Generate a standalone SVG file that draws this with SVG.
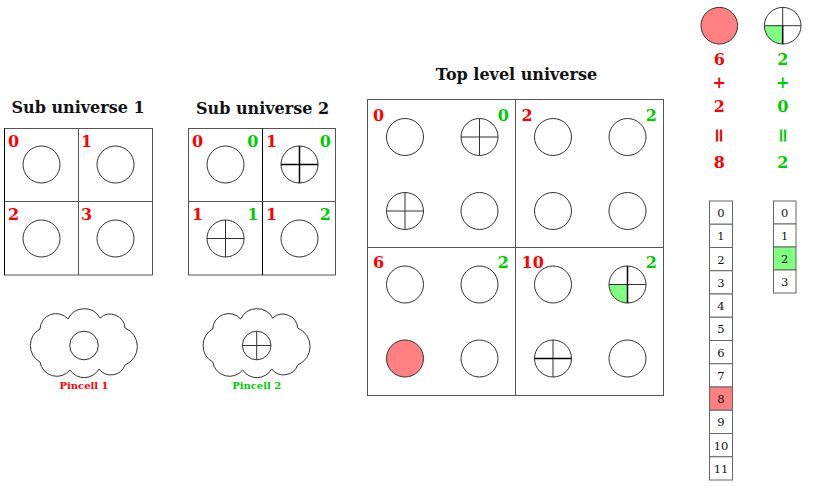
<svg xmlns="http://www.w3.org/2000/svg" width="815" height="486" viewBox="0 0 815 486">
<defs>
<style>
.title{font-family:"DejaVu Serif","Liberation Serif",serif;font-weight:bold;font-size:16px;fill:#111;text-anchor:middle}
.r{font-family:"DejaVu Serif","Liberation Serif",serif;font-weight:bold;font-size:16px;fill:#ff0000}
.g{font-family:"DejaVu Serif","Liberation Serif",serif;font-weight:bold;font-size:16px;fill:#00cc00;text-anchor:end}
.rc{font-family:"DejaVu Serif","Liberation Serif",serif;font-weight:bold;font-size:16px;fill:#ff0000;text-anchor:middle}
.gc{font-family:"DejaVu Serif","Liberation Serif",serif;font-weight:bold;font-size:16px;fill:#00cc00;text-anchor:middle}
.eq{font-size:19px}
.lab{font-family:"DejaVu Serif","Liberation Serif",serif;font-weight:bold;font-size:10px;text-anchor:middle}
.num{font-family:"DejaVu Serif","Liberation Serif",serif;font-size:11.5px;fill:#111;text-anchor:middle}
.box{fill:none;stroke:#555;stroke-width:1}
.edge{fill:none;stroke:#000;stroke-width:1}
.c{fill:none;stroke:#333;stroke-width:1}
.x{stroke:#333;stroke-width:1;fill:none}
.xb{stroke:#000;stroke-width:1.5;fill:none}
.cell{fill:#fff;stroke:#666;stroke-width:1}
.cloud{fill:none;stroke:#333;stroke-width:1}
</style>
<path id="cloud" d="M-44,-15 A16,16 0 0 1 -16,-25 A18,18 0 0 1 16,-26 A15,15 0 0 1 41,-16 A20,20 0 0 1 41,21 A15,15 0 0 1 15,25 A17,17 0 0 1 -14,26 A17,17 0 0 1 -44,18 A19,19 0 0 1 -44,-15 Z"/>
</defs>
<rect width="815" height="486" fill="#fff"/>

<g id="sub-universe-1">
<text class="title" x="78" y="113">Sub universe 1</text>
<rect class="box" x="4.5" y="128.5" width="148" height="146.5"/>
<line class="box" x1="78.5" y1="128.5" x2="78.5" y2="275"/>
<line class="box" x1="4.5" y1="201.5" x2="152.5" y2="201.5"/>
<line class="edge" x1="4.5" y1="128.5" x2="4.5" y2="275"/>
<circle class="c" cx="41.5" cy="164.5" r="18.5"/>
<circle class="c" cx="115.5" cy="164.5" r="18.5"/>
<circle class="c" cx="41.5" cy="238.5" r="18.5"/>
<circle class="c" cx="115.5" cy="238.5" r="18.5"/>
<text class="r" x="8" y="147">0</text>
<text class="r" x="81" y="147">1</text>
<text class="r" x="8" y="220">2</text>
<text class="r" x="81" y="220">3</text>
</g>

<g id="sub-universe-2">
<text class="title" x="262.5" y="114">Sub universe 2</text>
<rect class="box" x="188.5" y="128.5" width="147" height="146.5"/>
<line class="edge" x1="262.5" y1="128.5" x2="262.5" y2="275"/>
<line class="box" x1="188.5" y1="201.5" x2="335.5" y2="201.5"/>
<circle class="c" cx="225.5" cy="164.5" r="18.5"/>
<circle class="c" cx="299.5" cy="164.5" r="18.5"/>
<path class="xb" d="M281,164.5 H318 M299.5,146 V183"/>
<circle class="c" cx="225.5" cy="238.5" r="18.5"/>
<path class="x" d="M207,238.5 H244 M225.5,220 V257"/>
<circle class="c" cx="299.5" cy="238.5" r="18.5"/>
<text class="r" x="192" y="147">0</text>
<text class="g" x="258.5" y="147">0</text>
<text class="r" x="266" y="147">1</text>
<text class="g" x="331" y="147">0</text>
<text class="r" x="192" y="220">1</text>
<text class="g" x="258.5" y="220">1</text>
<text class="r" x="266" y="220">1</text>
<text class="g" x="331" y="220">2</text>
</g>

<g id="pincell-1">
<use href="#cloud" class="cloud" transform="translate(84,344)"/>
<circle class="c" cx="84" cy="345.5" r="14.3"/>
<text class="lab" x="84" y="389" fill="#ff0000">Pincell 1</text>
</g>

<g id="pincell-2">
<use href="#cloud" class="cloud" transform="translate(256.7,344)"/>
<circle class="c" cx="256.7" cy="345.5" r="14.3"/>
<path class="x" d="M242.4,345.5 H271 M256.7,331.2 V359.8"/>
<text class="lab" x="256.7" y="389" fill="#00cc00">Pincell 2</text>
</g>

<g id="top-level-universe">
<text class="title" x="516.5" y="80">Top level universe</text>
<rect class="box" x="367.5" y="99.5" width="296" height="296"/>
<line class="box" x1="515.5" y1="99.5" x2="515.5" y2="395.5"/>
<line class="box" x1="367.5" y1="247.5" x2="663.5" y2="247.5"/>
<circle class="c" cx="405" cy="137" r="18.5"/>
<circle class="c" cx="479.5" cy="137" r="18.5"/>
<path class="x" d="M461,137 H498 M479.5,118.5 V155.5"/>
<circle class="c" cx="405" cy="211" r="18.5"/>
<path class="x" d="M386.5,211 H423.5 M405,192.5 V229.5"/>
<circle class="c" cx="479.5" cy="211" r="18.5"/>
<circle class="c" cx="553" cy="137" r="18.5"/>
<circle class="c" cx="627.5" cy="137" r="18.5"/>
<circle class="c" cx="553" cy="211" r="18.5"/>
<circle class="c" cx="627.5" cy="211" r="18.5"/>
<circle class="c" cx="405" cy="284.5" r="18.5"/>
<circle class="c" cx="479.5" cy="284.5" r="18.5"/>
<circle cx="405" cy="358.5" r="18.5" fill="#ff8080" stroke="#333" stroke-width="1"/>
<circle class="c" cx="479.5" cy="358.5" r="18.5"/>
<circle class="c" cx="553" cy="284.5" r="18.5"/>
<path d="M627.5,284.5 L609,284.5 A18.5,18.5 0 0 0 627.5,303 Z" fill="#80ff80"/>
<circle class="c" cx="627.5" cy="284.5" r="18.5"/>
<path class="x" d="M609,284.5 H646"/>
<path class="xb" d="M627.5,266 V303"/>
<circle class="c" cx="553" cy="358.5" r="18.5"/>
<path class="x" d="M553,340 V377"/>
<path class="xb" d="M534.5,358.5 H571.5"/>
<circle class="c" cx="627.5" cy="358.5" r="18.5"/>
<text class="r" x="373" y="121">0</text>
<text class="g" x="509" y="121">0</text>
<text class="r" x="521.5" y="121">2</text>
<text class="g" x="657" y="121">2</text>
<text class="r" x="373" y="268">6</text>
<text class="g" x="509" y="268">2</text>
<text class="r" x="521.5" y="268">10</text>
<text class="g" x="657" y="268">2</text>
</g>

<g id="legend-red">
<circle cx="719.3" cy="25.7" r="18.3" fill="#ff8080" stroke="#333" stroke-width="1"/>
<text class="rc" x="719.3" y="65">6</text>
<text class="rc" x="719.3" y="88">+</text>
<text class="rc" x="719.3" y="112">2</text>
<text class="rc eq" x="719.3" y="141.5" transform="rotate(90 719.3 135.5)">=</text>
<text class="rc" x="719.3" y="168">8</text>
</g>

<g id="legend-green">
<path d="M782.7,25.7 L764.4,25.7 A18.3,18.3 0 0 0 782.7,44 Z" fill="#80ff80"/>
<circle class="c" cx="782.7" cy="25.7" r="18.3"/>
<path class="x" d="M764.4,25.7 H801 M782.7,7.4 V25.7"/>
<path class="xb" d="M782.7,25.7 V44"/>
<text class="gc" x="782.7" y="65">2</text>
<text class="gc" x="782.7" y="88">+</text>
<text class="gc" x="782.7" y="112">0</text>
<text class="gc eq" x="782.7" y="141.5" transform="rotate(90 782.7 135.5)">=</text>
<text class="gc" x="782.7" y="168">2</text>
</g>

<g id="list-red">
<rect class="cell" x="709.5" y="201" width="23" height="23.25"/>
<rect class="cell" x="709.5" y="224.25" width="23" height="23.25"/>
<rect class="cell" x="709.5" y="247.5" width="23" height="23.25"/>
<rect class="cell" x="709.5" y="270.75" width="23" height="23.25"/>
<rect class="cell" x="709.5" y="294" width="23" height="23.25"/>
<rect class="cell" x="709.5" y="317.25" width="23" height="23.25"/>
<rect class="cell" x="709.5" y="340.5" width="23" height="23.25"/>
<rect class="cell" x="709.5" y="363.75" width="23" height="23.25"/>
<rect class="cell" x="709.5" y="387" width="23" height="23.25" style="fill:#ff8080"/>
<rect class="cell" x="709.5" y="410.25" width="23" height="23.25"/>
<rect class="cell" x="709.5" y="433.5" width="23" height="23.25"/>
<rect class="cell" x="709.5" y="456.75" width="23" height="23.25"/>
<text class="num" x="721" y="217">0</text>
<text class="num" x="721" y="240.25">1</text>
<text class="num" x="721" y="263.5">2</text>
<text class="num" x="721" y="286.75">3</text>
<text class="num" x="721" y="310">4</text>
<text class="num" x="721" y="333.25">5</text>
<text class="num" x="721" y="356.5">6</text>
<text class="num" x="721" y="379.75">7</text>
<text class="num" x="721" y="403">8</text>
<text class="num" x="721" y="426.25">9</text>
<text class="num" x="721" y="449.5">10</text>
<text class="num" x="721" y="472.75">11</text>
</g>

<g id="list-green">
<rect class="cell" x="773.5" y="201" width="22.5" height="23"/>
<rect class="cell" x="773.5" y="224" width="22.5" height="23"/>
<rect class="cell" x="773.5" y="247" width="22.5" height="23" style="fill:#80ff80"/>
<rect class="cell" x="773.5" y="270" width="22.5" height="23"/>
<text class="num" x="784.75" y="217">0</text>
<text class="num" x="784.75" y="240">1</text>
<text class="num" x="784.75" y="263">2</text>
<text class="num" x="784.75" y="286">3</text>
</g>
</svg>
